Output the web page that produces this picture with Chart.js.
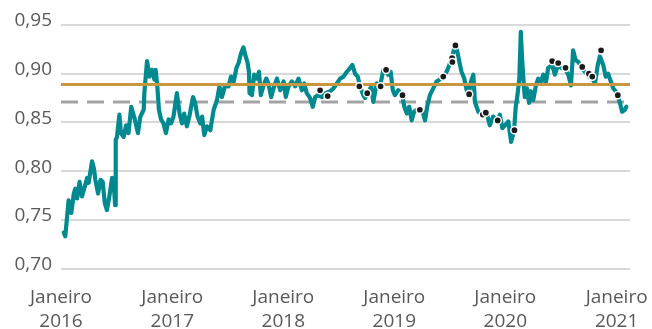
<!DOCTYPE html>
<html>
<head>
<meta charset="utf-8">
<script src="https://cdn.jsdelivr.net/npm/chart.js@4/dist/chart.umd.min.js"></script>
<style>
  html, body { margin: 0; padding: 0; background: #ffffff; }
  #wrap { width: 652px; height: 329px; }
</style>
</head>
<body>
<div id="wrap"><canvas id="c" width="652" height="329"></canvas></div>
<script>
// EUR/GBP exchange rate, sampled dates and closing levels
const dates = [
  '2016-01-10','2016-01-15','2016-01-21','2016-01-26','2016-02-04','2016-02-12','2016-02-17','2016-02-23',
  '2016-03-02','2016-03-10','2016-03-19','2016-03-27','2016-04-01','2016-04-12','2016-04-18','2016-04-23',
  '2016-05-02','2016-05-10','2016-05-17','2016-05-24','2016-05-31','2016-06-08','2016-06-17','2016-06-23',
  '2016-06-27','2016-06-29','2016-07-03','2016-07-11','2016-07-16','2016-07-25','2016-08-02','2016-08-10',
  '2016-08-19','2016-08-30','2016-09-10','2016-09-18','2016-09-29','2016-10-01','2016-10-10','2016-10-18',
  '2016-10-26','2016-11-03','2016-11-07','2016-11-12','2016-11-18','2016-11-25','2016-12-03','2016-12-11',
  '2016-12-20','2016-12-28','2017-01-05','2017-01-16','2017-01-25','2017-02-02','2017-02-09','2017-02-18',
  '2017-02-26','2017-03-10','2017-03-17','2017-03-25','2017-04-03','2017-04-09','2017-04-16','2017-04-25',
  '2017-05-06','2017-05-17','2017-05-28','2017-06-05','2017-06-13','2017-06-24','2017-07-05','2017-07-13',
  '2017-07-22','2017-07-31','2017-08-07','2017-08-15','2017-08-23','2017-08-30','2017-09-05','2017-09-10',
  '2017-09-12','2017-09-20','2017-09-27','2017-10-06','2017-10-13','2017-10-19','2017-10-28','2017-11-06',
  '2017-11-13','2017-11-22','2017-11-30','2017-12-11','2017-12-22','2018-01-02','2018-01-09','2018-01-18',
  '2018-01-29','2018-02-09','2018-02-20','2018-03-03','2018-03-11','2018-03-19','2018-03-30','2018-04-08',
  '2018-04-16','2018-04-25','2018-05-08','2018-05-19','2018-06-04','2018-06-15','2018-06-26','2018-07-07',
  '2018-07-18','2018-07-29','2018-08-09','2018-08-16','2018-08-25','2018-09-03','2018-09-10','2018-09-21',
  '2018-09-27','2018-10-06','2018-10-17','2018-10-24','2018-11-04','2018-11-15','2018-11-26','2018-12-05',
  '2018-12-12','2018-12-20','2018-12-27','2019-01-03','2019-01-14','2019-01-27','2019-02-03','2019-02-11',
  '2019-02-19','2019-02-27','2019-03-07','2019-03-16','2019-03-27','2019-04-04','2019-04-12','2019-04-19',
  '2019-04-28','2019-05-09','2019-05-20','2019-05-31','2019-06-11','2019-06-22','2019-07-01','2019-07-09',
  '2019-07-20','2019-07-27','2019-08-03','2019-08-10','2019-08-19','2019-08-27','2019-09-03','2019-09-10',
  '2019-09-18','2019-09-23','2019-10-04','2019-10-15','2019-10-20','2019-11-01','2019-11-11','2019-11-22',
  '2019-12-07','2019-12-14','2019-12-22','2019-12-31','2020-01-11','2020-01-20','2020-01-30','2020-02-04',
  '2020-02-10','2020-02-16','2020-02-21','2020-02-25','2020-03-01','2020-03-05','2020-03-12','2020-03-19',
  '2020-03-25','2020-04-02','2020-04-10','2020-04-18','2020-04-27','2020-05-05','2020-05-13','2020-05-21',
  '2020-06-03','2020-06-12','2020-06-23','2020-07-02','2020-07-17','2020-07-26','2020-08-04','2020-08-11',
  '2020-08-19','2020-08-28','2020-09-10','2020-09-24','2020-10-02','2020-10-13','2020-10-22','2020-10-31',
  '2020-11-07','2020-11-18','2020-11-26','2020-12-04','2020-12-13','2020-12-21','2020-12-29','2021-01-04',
  '2021-01-12','2021-01-19','2021-01-28','2021-02-02'
];
const rates = [
  0.737,0.733,0.753,0.770,0.757,0.777,0.782,0.772,
  0.789,0.774,0.784,0.793,0.788,0.810,0.803,0.791,
  0.777,0.791,0.789,0.767,0.760,0.774,0.793,0.784,
  0.765,0.832,0.835,0.858,0.839,0.835,0.847,0.839,
  0.866,0.854,0.839,0.856,0.863,0.880,0.913,0.897,
  0.904,0.894,0.904,0.890,0.863,0.853,0.849,0.839,
  0.853,0.849,0.856,0.880,0.859,0.849,0.859,0.846,
  0.856,0.876,0.870,0.856,0.849,0.856,0.837,0.846,
  0.842,0.863,0.873,0.887,0.876,0.888,0.887,0.897,
  0.892,0.906,0.911,0.921,0.927,0.918,0.912,0.902,
  0.880,0.878,0.899,0.895,0.902,0.878,0.888,0.895,
  0.890,0.876,0.885,0.895,0.883,0.892,0.876,0.887,
  0.892,0.887,0.895,0.883,0.890,0.880,0.875,0.866,
  0.876,0.878,0.876,0.880,0.882,0.885,0.890,0.895,
  0.897,0.902,0.906,0.909,0.900,0.897,0.887,0.878,
  0.875,0.880,0.887,0.871,0.890,0.887,0.904,0.902,
  0.899,0.902,0.883,0.878,0.883,0.878,0.866,0.859,
  0.866,0.852,0.861,0.863,0.863,0.861,0.852,0.866,
  0.878,0.885,0.892,0.894,0.897,0.902,0.909,0.916,
  0.929,0.923,0.912,0.902,0.895,0.883,0.879,0.892,
  0.899,0.871,0.861,0.858,0.859,0.859,0.847,0.856,
  0.852,0.858,0.844,0.847,0.851,0.830,0.842,0.865,
  0.878,0.895,0.943,0.916,0.892,0.876,0.885,0.870,
  0.882,0.873,0.887,0.895,0.892,0.899,0.890,0.906,
  0.909,0.899,0.909,0.906,0.904,0.899,0.888,0.924,
  0.914,0.912,0.905,0.900,0.897,0.895,0.890,0.909,
  0.918,0.909,0.897,0.900,0.892,0.885,0.882,0.878,
  0.870,0.861,0.863,0.866
];

// Highlighted observations
const markerDates = [
  '2018-05-02','2018-05-27','2018-09-08','2018-10-04','2018-11-17','2018-12-05','2019-01-28','2019-03-26',
  '2019-06-11','2019-07-10','2019-07-11','2019-07-21','2019-09-04','2019-10-19','2019-10-29','2019-12-07',
  '2020-01-31','2020-06-03','2020-06-23','2020-07-17','2020-09-10','2020-10-02','2020-10-13','2020-11-11',
  '2021-01-05'
];
const markerRates = [
  0.883,0.877,0.887,0.880,0.887,0.904,0.878,0.863,
  0.897,0.916,0.912,0.929,0.879,0.858,0.860,0.852,
  0.842,0.913,0.911,0.906,0.907,0.900,0.897,0.924,
  0.878
];

// Reference levels
const averageLevel = 0.889;
const referenceLevel = 0.871;

// Axis labels
const yearTicks = [2016, 2017, 2018, 2019, 2020, 2021];
const monthLabel = 'Janeiro';
const valueTicks = [0.70, 0.75, 0.80, 0.85, 0.90, 0.95];
const axisStart = '2016-01-01';
const axisEnd = '2021-02-14';

const DAY = 86400000;
const dayOf = s => (Date.parse(s) - Date.parse(axisStart)) / DAY;
const xMin = 0;
const xMax = dayOf(axisEnd);

const series = dates.map((d, i) => ({ x: dayOf(d), y: rates[i] }));
const markers = markerDates.map((d, i) => ({ x: dayOf(d), y: markerRates[i] }));
const avgLine = [{ x: xMin, y: averageLevel }, { x: xMax, y: averageLevel }];
const refLine = [{ x: xMin, y: referenceLevel }, { x: xMax, y: referenceLevel }];

const labelFont = { family: "'Open Sans', sans-serif", size: 19, lineHeight: 1.22 };
const labelColor = '#58595b';

new Chart(document.getElementById('c'), {
  type: 'line',
  data: {
    datasets: [
      {
        data: markers, showLine: false, order: 0,
        pointRadius: 3.6, pointBackgroundColor: '#1b1b1b',
        pointBorderColor: '#ffffff', pointBorderWidth: 1.5, pointHoverRadius: 3.6
      },
      {
        data: avgLine, order: 1, borderColor: '#c8963e', borderWidth: 3,
        pointRadius: 0, fill: false
      },
      {
        data: series, order: 2, borderColor: '#008a8f', borderWidth: 4.2,
        pointRadius: 0, fill: false, tension: 0,
        borderJoinStyle: 'round', borderCapStyle: 'round'
      },
      {
        data: refLine, order: 3, borderColor: '#a3a3a3', borderWidth: 3,
        borderDash: [17, 9], pointRadius: 0, fill: false
      }
    ]
  },
  options: {
    responsive: false,
    animation: false,
    events: [],
    layout: { padding: { top: 25, right: 22, left: 0, bottom: 0 } },
    plugins: { legend: { display: false }, tooltip: { enabled: false } },
    scales: {
      x: {
        type: 'linear', min: xMin, max: xMax,
        grid: { display: false, drawTicks: false },
        border: { display: false },
        afterBuildTicks: s => { s.ticks = yearTicks.map(y => ({ value: dayOf(y + '-01-01') })); },
        afterFit: s => { s.height = 60.5; s.paddingLeft = 0; s.paddingRight = 0; },
        ticks: {
          autoSkip: false, maxRotation: 0, padding: 18,
          font: labelFont, color: labelColor,
          callback: (v, i) => [monthLabel, String(yearTicks[i])]
        }
      },
      y: {
        min: 0.70, max: 0.95,
        grid: { color: '#d9d9d9', lineWidth: 2, drawTicks: false },
        border: { display: false },
        afterBuildTicks: s => { s.ticks = valueTicks.map(v => ({ value: v })); },
        afterFit: s => { s.width = 61; },
        ticks: {
          padding: 9, labelOffset: -4,
          font: labelFont, color: labelColor,
          callback: v => v.toFixed(2).replace('.', ',')
        }
      }
    }
  }
});
</script>
</body>
</html>
